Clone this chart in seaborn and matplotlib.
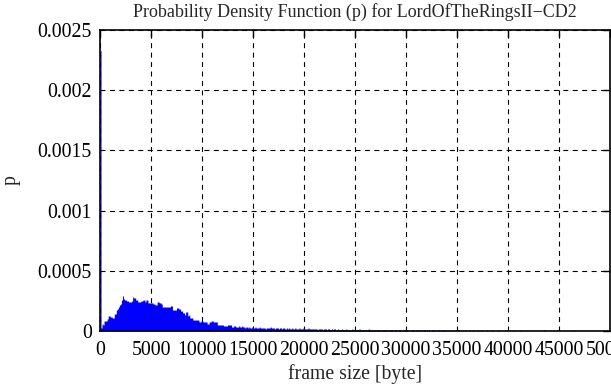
import numpy as np
import pandas as pd
import matplotlib
matplotlib.use("Agg")
import matplotlib.pyplot as plt
import seaborn as sns

# ---- data (density values in units of 1e-6, bins of 100 bytes) ----
bin_width = 100
density_head_e6 = [
    2330, 25, 58, 50, 83, 83, 83, 100, 125, 125,
    116, 116, 108, 108, 141, 141, 174, 183, 199, 216,
    224, 257, 291, 266, 257, 257, 249, 249, 241, 241,
    241, 249, 282, 274, 274, 257, 257, 241, 241, 241,
    249, 249, 257, 257, 241, 257, 257, 233, 233, 233,
    233, 233, 224, 224, 216, 216, 241, 241, 233, 233,
    224, 199, 199, 199, 199, 199, 199, 199, 199, 208,
    208, 174, 174, 174, 174, 191, 191, 183, 183, 166,
    166, 150, 150, 133, 158, 158, 125, 133, 108, 108,
    108, 91, 91, 91, 91, 91, 91, 75, 75, 83,
]
density_mid_e6 = [
    83, 75, 75, 75, 75, 58, 58, 75, 75, 83,
    83, 75, 75, 75, 75, 50, 50, 50, 50, 50,
    50, 42, 42, 42, 42, 50, 50, 50, 50, 33,
    33, 42, 42, 33, 33, 33, 42, 33, 33, 42,
    33, 33, 25, 33, 33, 25, 33, 25, 25, 33,
    25, 25, 33, 25, 25, 25, 33, 25, 25, 25,
    25, 25, 17, 25, 25, 25, 25, 33, 25, 25,
    25, 17, 25, 25, 25, 17, 25, 25, 17, 25,
    25, 17, 17, 25, 17, 25, 17, 17, 25, 17,
    17, 25, 17, 17, 17, 25, 17, 17, 17, 25,
    17, 17, 17, 17, 25, 17, 17, 17, 17, 17,
    17, 17, 17, 8, 17, 17, 17, 17, 8, 17,
]
density_tail_e6 = [
    17, 17, 8, 17, 17, 8, 8, 17, 8, 17,
    17, 8, 8, 17, 8, 8, 8, 17, 8, 8,
    8, 17, 8, 8, 8, 8, 8, 17, 8, 8,
    8, 8, 8, 8, 17, 8, 8, 8, 8, 8,
    8, 8, 8, 17, 8, 8, 8, 8, 8, 8,
    8, 8, 8, 8, 8, 0, 8, 8, 8, 8,
    8, 8, 0, 8, 8, 8, 8, 0, 8, 8,
    8, 0, 8, 8, 8, 8, 0, 8, 8, 8,
    8, 8, 0, 8, 0, 8, 8, 8, 0, 8,
    8, 0, 8, 8, 0, 8, 0, 8, 8, 0,
    8, 0, 8, 0, 0, 8, 8, 0, 8, 0,
    0, 8, 8, 0, 8, 0, 8, 8, 0, 0,
    8, 0, 8, 0, 0, 8, 0, 0, 8, 0,
    0, 8, 0, 0, 8, 0, 0, 0, 8, 0,
    0, 0, 8, 0, 0, 8, 0, 0, 0, 0,
    8, 0, 0, 0, 8, 0, 0, 0, 0, 8,
    0, 0, 0, 0, 8, 0, 0, 0, 0, 0,
    8, 0, 0, 0, 0, 0, 0, 8, 0, 0,
    0, 0, 0, 0, 0, 8, 0, 0, 0, 0,
    0, 0, 8, 0, 0, 0, 0, 0, 0, 0,
    0, 0, 0, 0, 0, 0, 0, 0, 0, 0,
    0, 0, 0, 0, 0, 8, 0, 0, 0, 0,
    0, 0, 0, 0, 0, 0, 0, 0, 0, 0,
    0, 0, 0, 0, 0, 0, 0, 0, 0, 0,
    0, 0, 0, 0, 8, 0, 0, 0, 0, 0,
    0, 0, 0, 0, 0, 0, 0, 0, 0, 0,
    0, 0, 0, 0, 0, 0, 0, 0, 0, 0,
    0, 0, 0, 0, 0, 0, 0, 0, 0, 0,
]

x_ticks = [0, 5000, 10000, 15000, 20000, 25000, 30000, 35000, 40000, 45000, 50000]
x_tick_labels = ["0", "5000", "10000", "15000", "20000", "25000", "30000",
                 "35000", "40000", "45000", "50000"]
y_ticks = [0, 0.0005, 0.001, 0.0015, 0.002, 0.0025]
y_tick_labels = ["0", "0.0005", "0.001", "0.0015", "0.002", "0.0025"]

title = "Probability Density Function (p) for LordOfTheRingsII\u2212CD2"
x_label = "frame size [byte]"
y_label = "p"

# ---- build table ----
dens = np.array(density_head_e6 + density_mid_e6 + density_tail_e6, dtype=float) * 1e-6
n_bins = len(dens)
centers = np.arange(n_bins) * bin_width + bin_width / 2
df = pd.DataFrame({"size": centers, "p": dens})

sns.set_style("white")
plt.rcParams["font.family"] = ["Liberation Serif", "DejaVu Serif"]

fig = plt.figure(figsize=(6.11, 3.85), dpi=100)
ax = fig.add_axes([100 / 611, 54 / 385, 510 / 611, 301 / 385])

sns.histplot(data=df, x="size", weights="p", binwidth=bin_width,
             binrange=(0, n_bins * bin_width), stat="count",
             element="step", fill=True, color="#0000ff", alpha=1.0,
             linewidth=0, ax=ax, zorder=3)

ax.set_xlim(0, 50000)
ax.set_ylim(0, 0.0025)
ax.set_xticks(x_ticks)
ax.set_xticklabels(x_tick_labels)
ax.set_yticks(y_ticks)
ax.set_yticklabels(y_tick_labels)

ax.grid(True, color="black", linestyle=(0, (4.5, 4)), linewidth=0.8, zorder=1)
ax.set_axisbelow(True)
ax.tick_params(axis="both", which="both", direction="in", length=5, width=1,
               top=True, right=True, labelsize=14.3, colors="black")
ax.tick_params(axis="y", pad=6)
ax.tick_params(axis="x", pad=7)
for s in ax.spines.values():
    s.set_linewidth(1.2)
    s.set_color("black")
    s.set_zorder(4)

ax.set_title(title, fontsize=13, pad=9.5)
ax.set_xlabel(x_label, fontsize=14.2, labelpad=3)
ax.set_ylabel(y_label, fontsize=14.2, labelpad=12)

fig.savefig("out.png", dpi=100)
